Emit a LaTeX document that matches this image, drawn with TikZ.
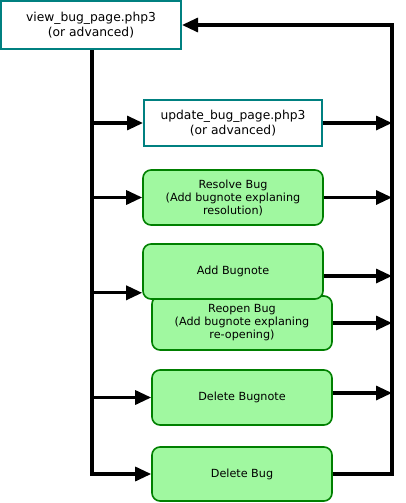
\documentclass[tikz,border=0pt]{standalone}
\usepackage{fontspec}
\setmainfont{DejaVu Sans}
\usetikzlibrary{arrows.meta}
\definecolor{pageteal}{RGB}{0,128,128}
\definecolor{actgreen}{RGB}{0,128,0}
\definecolor{actfill}{RGB}{160,248,160}
\tikzset{
	pagebox/.style={draw=pageteal,line width=2pt,fill=white,minimum width=178pt,minimum height=46pt,align=center,font=\fontsize{12.3}{14.5}\selectfont,inner sep=0pt},
	actionbox/.style={draw=actgreen,line width=1.6pt,fill=actfill,rounded corners=8pt,minimum width=180pt,minimum height=55pt,align=center,font=\fontsize{11.2}{13}\selectfont,inner sep=0pt},
	flow/.style={line width=3.2pt,-{Triangle[length=16pt,width=14pt]}},
}
\begin{document}
\begin{tikzpicture}[x=1pt,y=-1pt]
		\useasboundingbox (0,0) rectangle (405,503);
		\node[pagebox,minimum width=180pt,minimum height=48pt] (view) at (91,25) {view\_bug\_page.php3\\(or advanced)};
		\node[pagebox] (update) at (233,123) {update\_bug\_page.php3\\(or advanced)};
		\node[actionbox] (resolve) at (233,197.5) {Resolve Bug\\(Add bugnote explaning\\resolution)};
		\node[actionbox,minimum height=54pt] (reopen) at (242,323) {Reopen Bug\\(Add bugnote explaning\\re-opening)};
		\node[actionbox] (addnote) at (233,271.5) {Add Bugnote};
		\node[actionbox] (delnote) at (242,397.5) {Delete Bugnote};
		\node[actionbox,minimum height=54pt] (delbug) at (242,474) {Delete Bug};
		\coordinate (lt) at (92,474);
		\coordinate (rt) at (392,474);
		\coordinate (rtop) at (392,25);
		% left trunk and the arrows into the actions
		\draw[flow] (view.south -| lt) -- (lt) -- (delbug.west);
		\draw[flow] (update.west -| lt) -- (update.west);
		\draw[flow] (resolve.west -| lt) -- (resolve.west);
		\draw[flow] ([yshift=7pt]addnote.south west -| lt) -- ([yshift=7pt]addnote.south west);
		\draw[flow] (delnote.west -| lt) -- (delnote.west);
		% right trunk back to the view page
		\draw[flow] (delbug.east) -- (rt) -- (rtop) -- (view.east);
		\draw[flow] (update.east) -- (update.east -| rt);
		\draw[flow] (resolve.east) -- (resolve.east -| rt);
		\draw[flow] ([yshift=-4.5pt]addnote.east) -- ([yshift=-4.5pt]addnote.east -| rt);
		\draw[flow] (reopen.east) -- (reopen.east -| rt);
		\draw[flow] ([yshift=4.5pt]delnote.east) -- ([yshift=4.5pt]delnote.east -| rt);
	\end{tikzpicture}
\end{document}
